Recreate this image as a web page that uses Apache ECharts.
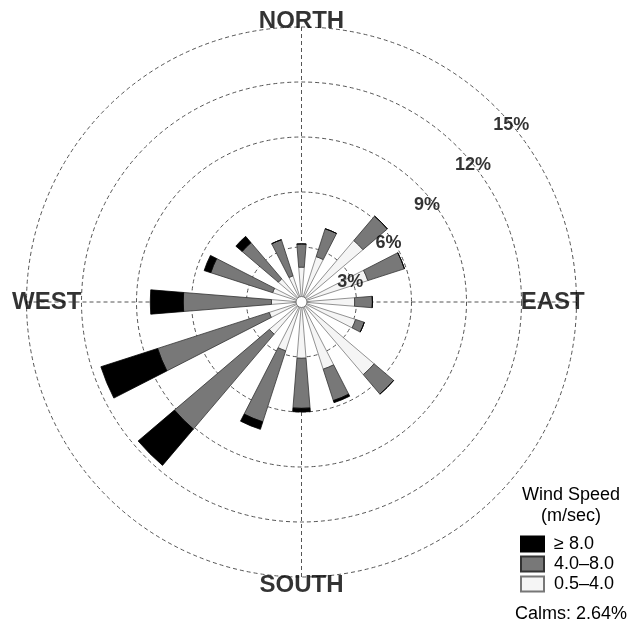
<!DOCTYPE html>
<html>
<head>
<meta charset="utf-8">
<title>Wind rose</title>
<script src="https://cdn.jsdelivr.net/npm/echarts@6/dist/echarts.min.js"></script>
<style>
    html, body { margin: 0; padding: 0; background: #fff; }
    #chart { width: 634px; height: 620px; }
</style>
</head>
<body>
<div id="chart"></div>
<script>
// wind directions, clockwise from north
var directions = ['N', 'NNE', 'NE', 'ENE', 'E', 'ESE', 'SE', 'SSE', 'S', 'SSW', 'SW', 'WSW', 'W', 'WNW', 'NW', 'NNW'];
// frequency (%) per speed class, stacked from the centre out
var speedLow = [1.9, 2.6, 4.4, 3.8, 2.9, 3.1, 5.2, 3.85, 3.07, 2.8, 2.3, 1.85, 1.64, 1.65, 1.66, 1.5];   // 0.5-4.0
var speedMid = [1.27, 1.6, 1.75, 2.1, 0.97, 0.5, 1.4, 1.8, 2.73, 4.07, 6.8, 6.4, 4.81, 3.55, 2.59, 2.07]; // 4.0-8.0
var speedHigh = [0, 0, 0, 0, 0, 0, 0, 0.12, 0.2, 0.43, 2.6, 3.25, 1.8, 0.38, 0.45, 0];                  // >= 8.0
var speedNames = ['0.5–4.0', '4.0–8.0', '≥ 8.0'];
// rings
var ringTicks = [3, 6, 9, 12, 15];
var ringLabels = ['3%', '6%', '9%', '12%', '15%'];
var compassNames = ['NORTH', 'EAST', 'SOUTH', 'WEST'];
var calms = 'Calms: 2.64%';

// where the ring labels / compass words sit (degrees clockwise from north, radius in %)
var ringLabelAngle = [67.3, 55.9, 52.2, 51.3, 49.9];
var ringLabelShift = [-0.12, -0.27, -0.33, -0.01, -0.05];
var compassPos = [[15.3, 0], [13.7, 90], [15.45, 180], [13.9, 270]];

var FONT = '"Liberation Sans", Arial, Helvetica, sans-serif';
var CX = 301.5, CY = 302, R = 275;

var myChart = echarts.init(document.getElementById('chart'));

var ringData = [];
for (var i = 0; i < ringTicks.length; i++) {
    ringData.push({ name: ringLabels[i], value: [ringTicks[i] + ringLabelShift[i], ringLabelAngle[i]] });
}
var compassData = [];
for (var j = 0; j < compassNames.length; j++) {
    compassData.push({ name: compassNames[j], value: compassPos[j] });
}

function hiddenAxis(extra) {
    var a = {
        axisLine: { show: false },
        axisTick: { show: false },
        axisLabel: { show: false },
        splitLine: { show: false }
    };
    for (var k in extra) a[k] = extra[k];
    return a;
}

var option = {
    backgroundColor: '#fff',
    animation: false,
    title: [
        {
            text: 'Wind Speed\n(m/sec)',
            left: 571,
            top: 485,
            textAlign: 'center',
            padding: 0,
            textStyle: { fontFamily: FONT, fontSize: 18, fontWeight: 'normal', color: '#000', lineHeight: 21, align: 'center' }
        },
        {
            text: calms,
            left: 571,
            top: 605,
            textAlign: 'center',
            padding: 0,
            textStyle: { fontFamily: FONT, fontSize: 18, fontWeight: 'normal', color: '#000', lineHeight: 18 }
        }
    ],
    legend: {
        data: [speedNames[2], speedNames[1], speedNames[0]],
        orient: 'vertical',
        left: 520,
        top: 535,
        padding: 0,
        itemWidth: 23,
        itemHeight: 15,
        itemGap: 2,
        icon: 'rect',
        selectedMode: false,
        textStyle: { fontFamily: FONT, fontSize: 18, lineHeight: 18, color: '#000', padding: [0, 0, 0, 5] }
    },
    polar: [
        { center: [CX, CY], radius: R },
        { center: [CX, CY], radius: R },
        // same scale, just a bit more room for the compass words
        { center: [CX, CY], radius: R * 16 / 15 }
    ],
    angleAxis: [
        {
            // grid only: N/E/S/W dashed spokes
            polarIndex: 0,
            type: 'value',
            min: 0,
            max: 360,
            interval: 90,
            startAngle: 90,
            clockwise: true,
            axisLine: { show: false },
            axisTick: { show: false },
            axisLabel: { show: false },
            splitLine: { show: true, lineStyle: { color: '#555', width: 1, type: [4, 3] } }
        },
        hiddenAxis({ polarIndex: 1, type: 'category', data: directions, startAngle: 101.25, clockwise: true }),
        hiddenAxis({ polarIndex: 2, type: 'value', min: 0, max: 360, startAngle: 90, clockwise: true })
    ],
    radiusAxis: [
        {
            polarIndex: 0,
            min: 0,
            max: 15,
            interval: 3,
            axisLine: { show: false },
            axisTick: { show: false },
            axisLabel: { show: false },
            splitLine: { show: true, lineStyle: { color: '#555', width: 1, type: [4, 3] } }
        },
        hiddenAxis({ polarIndex: 1, min: 0, max: 15 }),
        hiddenAxis({ polarIndex: 2, min: 0, max: 16 })
    ],
    series: [
        {
            name: speedNames[0],
            type: 'bar',
            coordinateSystem: 'polar',
            polarIndex: 1,
            stack: 'wind',
            barWidth: '41%',
            data: speedLow,
            itemStyle: { color: '#f5f5f5', borderColor: '#777', borderWidth: 0.8 }
        },
        {
            name: speedNames[1],
            type: 'bar',
            coordinateSystem: 'polar',
            polarIndex: 1,
            stack: 'wind',
            barWidth: '41%',
            data: speedMid,
            itemStyle: { color: '#787878', borderColor: '#333', borderWidth: 0.8 }
        },
        {
            name: speedNames[2],
            type: 'bar',
            coordinateSystem: 'polar',
            polarIndex: 1,
            stack: 'wind',
            barWidth: '41%',
            data: speedHigh,
            itemStyle: { color: '#000', borderColor: '#000', borderWidth: 0.8 }
        },
        {
            // ring percentage labels
            type: 'scatter',
            coordinateSystem: 'polar',
            polarIndex: 0,
            symbolSize: 0,
            z: 5,
            data: ringData,
            label: {
                show: true,
                position: 'inside',
                formatter: '{b}',
                fontFamily: FONT,
                fontSize: 18,
                fontWeight: 'bold',
                color: '#000'
            }
        },
        {
            // compass words
            type: 'scatter',
            coordinateSystem: 'polar',
            polarIndex: 2,
            symbolSize: 0,
            z: 5,
            data: compassData,
            label: {
                show: true,
                position: 'inside',
                formatter: '{b}',
                fontFamily: FONT,
                fontSize: 24,
                fontWeight: 'bold',
                color: '#000'
            }
        }
    ],
    graphic: [
        {
            // small calm hole in the middle
            type: 'circle',
            shape: { cx: CX, cy: CY, r: 5.5 },
            style: { fill: '#fff', stroke: '#777', lineWidth: 1 },
            z: 10
        }
    ]
};

myChart.setOption(option);
</script>
</body>
</html>
